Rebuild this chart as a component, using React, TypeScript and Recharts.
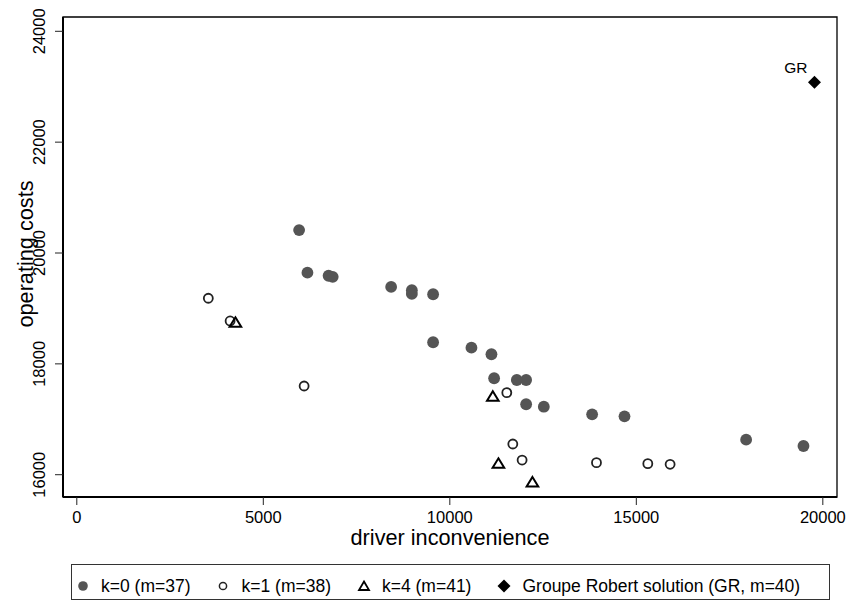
import React from "react"
import {
  ScatterChart,
  Scatter,
  XAxis,
  YAxis,
  ReferenceArea,
  Legend,
  Label,
} from "recharts"

// values
const k0X = [5960, 6183, 6750, 6860, 8427, 8982, 8982, 9552, 9552, 10580, 11116, 11188, 11796, 12046, 12046, 12520, 13815, 14683, 17944, 19481]
const k0Y = [20414, 19646, 19590, 19570, 19388, 19330, 19262, 19256, 18390, 18292, 18173, 17740, 17709, 17709, 17271, 17227, 17090, 17054, 16632, 16518]

const k1X = [3526, 4110, 6094, 11528, 11689, 11938, 13932, 15308, 15906]
const k1Y = [19184, 18774, 17601, 17480, 16554, 16265, 16217, 16199, 16188]

const k4X = [4252, 11153, 11303, 12215]
const k4Y = [18749, 17416, 16206, 15868]

const grX = [19776]
const grY = [23083]
const grLabels = ["GR"]

const xTicks = [0, 5000, 10000, 15000, 20000]
const yTicks = [16000, 18000, 20000, 22000, 24000]
const xDomain: [number, number] = [-370, 20380]
const yDomain: [number, number] = [15598, 24258]

const seriesNames = ["k=0 (m=37)", "k=1 (m=38)", "k=4 (m=41)", "Groupe Robert solution (GR, m=40)"]

const toPoints = (xs: number[], ys: number[]) => xs.map((x, i) => ({ x, y: ys[i] }))
const k0Data = toPoints(k0X, k0Y)
const k1Data = toPoints(k1X, k1Y)
const k4Data = toPoints(k4X, k4Y)
const grData = grX.map((x, i) => ({ x, y: grY[i], label: grLabels[i] }))

const FONT = "'Liberation Sans', Arial, sans-serif"
const GRAY = "#555555"

const FilledDot = (p: any) => <circle cx={p.cx} cy={p.cy} r={5.9} fill={GRAY} />
const HollowDot = (p: any) => (
  <circle cx={p.cx} cy={p.cy} r={4.5} fill="none" stroke="#222" strokeWidth={1.8} />
)
const Triangle = (p: any) => (
  <path
    d={`M${p.cx},${p.cy - 5} L${p.cx + 5.8},${p.cy + 4.5} L${p.cx - 5.8},${p.cy + 4.5} Z`}
    fill="none"
    stroke="#000"
    strokeWidth={2}
  />
)
const Diamond = (p: any) => (
  <g>
    <path
      d={`M${p.cx},${p.cy - 6.5} L${p.cx + 6.5},${p.cy} L${p.cx},${p.cy + 6.5} L${p.cx - 6.5},${p.cy} Z`}
      fill="#000"
    />
    <text x={p.cx - 7} y={p.cy - 9} textAnchor="end" fontSize={15.5} fontFamily={FONT} fill="#000">
      {p.payload.label}
    </text>
  </g>
)

const XTick = (p: any) => (
  <text x={p.x} y={p.y} textAnchor="middle" fontSize={16.5} fontFamily={FONT} fill="#000">
    {p.payload.value}
  </text>
)
const YTick = (p: any) => (
  <text
    x={p.x}
    y={p.y}
    transform={`rotate(-90, ${p.x}, ${p.y})`}
    textAnchor="middle"
    fontSize={16.5}
    fontFamily={FONT}
    fill="#000"
  >
    {p.payload.value}
  </text>
)

const legendSymbols = [
  <circle cx={6} cy={7} r={4.8} fill={GRAY} />,
  <circle cx={6} cy={7} r={3.6} fill="none" stroke="#222" strokeWidth={1.5} />,
  <path d="M6,2.5 L11,11 L1,11 Z" fill="none" stroke="#000" strokeWidth={1.8} />,
  <path d="M6,0.5 L12.5,7 L6,13.5 L-0.5,7 Z" fill="#000" />,
]

const LegendBox = () => (
  <div
    style={{
      marginLeft: 71,
      width: 759,
      height: 36,
      boxSizing: "border-box",
      border: "1.2px solid #333",
      display: "flex",
      alignItems: "center",
      paddingTop: 8,
      paddingLeft: 5,
      fontFamily: FONT,
      fontSize: 17.5,
      color: "#000",
    }}
  >
    {seriesNames.map((name, i) => (
      <div key={name} style={{ display: "flex", alignItems: "center", marginRight: 27 }}>
        <svg width={12} height={14} style={{ overflow: "visible" }}>
          {legendSymbols[i]}
        </svg>
        <span style={{ marginLeft: 12, whiteSpace: "nowrap" }}>{name}</span>
      </div>
    ))}
  </div>
)

export default function App() {
  return (
    <div style={{ position: "absolute", left: 0, top: 0, background: "#fff" }}>
      <ScatterChart width={849} height={601} margin={{ top: 17, right: 12, left: 0, bottom: 1 }}>
        <ReferenceArea
          x1={xDomain[0]}
          x2={xDomain[1]}
          y1={yDomain[0]}
          y2={yDomain[1]}
          fill="none"
          stroke="#000"
          strokeWidth={1.3}
          ifOverflow="visible"
        />
        <XAxis
          type="number"
          dataKey="x"
          domain={xDomain}
          ticks={xTicks}
          allowDataOverflow
          height={67}
          tickSize={8}
          tickMargin={18}
          axisLine={{ stroke: "#000", strokeWidth: 2 }}
          tickLine={{ stroke: "#222", strokeWidth: 1 }}
          tick={<XTick />}
        >
          <Label
            content={(p: any) => (
              <text
                x={p.viewBox.x + p.viewBox.width / 2}
                y={p.viewBox.y + 48}
                textAnchor="middle"
                fontSize={21.7}
                fontFamily={FONT}
                fill="#000"
              >
                driver inconvenience
              </text>
            )}
          />
        </XAxis>
        <YAxis
          type="number"
          dataKey="y"
          domain={yDomain}
          ticks={yTicks}
          allowDataOverflow
          width={63}
          tickSize={8}
          tickMargin={10}
          axisLine={{ stroke: "#000", strokeWidth: 2 }}
          tickLine={{ stroke: "#222", strokeWidth: 1 }}
          tick={<YTick />}
        >
          <Label
            content={(p: any) => {
              const cx = 33
              const cy = p.viewBox.y + p.viewBox.height / 2 - 3
              return (
                <text
                  x={cx}
                  y={cy}
                  transform={`rotate(-90, ${cx}, ${cy})`}
                  textAnchor="middle"
                  fontSize={21.7}
                  fontFamily={FONT}
                  fill="#000"
                >
                  operating costs
                </text>
              )
            }}
          />
        </YAxis>
        <Legend verticalAlign="bottom" content={<LegendBox />} wrapperStyle={{ left: 0, width: 849 }} />
        <Scatter name={seriesNames[0]} data={k0Data} shape={FilledDot} isAnimationActive={false} />
        <Scatter name={seriesNames[1]} data={k1Data} shape={HollowDot} isAnimationActive={false} />
        <Scatter name={seriesNames[2]} data={k4Data} shape={Triangle} isAnimationActive={false} />
        <Scatter name={seriesNames[3]} data={grData} shape={Diamond} isAnimationActive={false} />
      </ScatterChart>
    </div>
  )
}
